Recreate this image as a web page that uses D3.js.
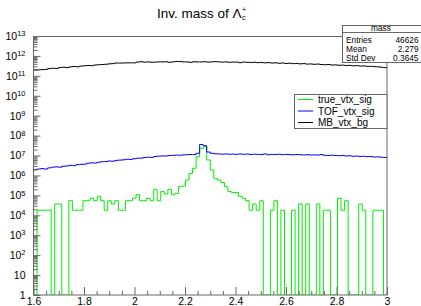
<!DOCTYPE html>
<html>
<head>
<meta charset="utf-8">
<script src="https://cdn.jsdelivr.net/npm/d3@7"></script>
<style>
  html, body { margin: 0; padding: 0; background: #fff; }
  svg { display: block; font-family: "Liberation Sans", Arial, Helvetica, sans-serif; }
</style>
</head>
<body>
<div id="chart"></div>
<script>
// binning of the three histograms
var xMin = 1.6, xMax = 3.0, nBins = 100;
var xMajorTicks = [1.6, 1.8, 2.0, 2.2, 2.4, 2.6, 2.8, 3.0];
var xTickLabels = ['1.6', '1.8', '2', '2.2', '2.4', '2.6', '2.8', '3'];
var yDecades = [0, 1, 2, 3, 4, 5, 6, 7, 8, 9, 10, 11, 12, 13];

var seriesNames = ['true_vtx_sig', 'TOF_vtx_sig', 'MB_vtx_bg'];
var statsTitle = 'mass';
var statsLabels = ['Entries', 'Mean', 'Std Dev'];
var statsValues = ['46626', '2.279', '0.3645'];

// bin contents
var trueVtxSig = [
  0, 1.8e4, 1.8e4, 1.8e4, 1.8e4, 0, 3.7e4, 3.7e4, 0, 0,
  5.4e4, 1.8e4, 1.8e4, 1.8e4, 5.4e4, 5.4e4, 7.2e4, 5.4e4, 9.0e4, 5.4e4,
  1.8e4, 5.4e4, 3.7e4, 5.4e4, 1.8e4, 1.8e4, 5.4e4, 5.4e4, 7.2e4, 1.08e5,
  5.4e4, 5.4e4, 7.2e4, 5.4e4, 2.0e5, 5.4e4, 1.55e5, 1.17e5, 2.0e5, 1.08e5,
  1.26e5, 2.75e5, 2.95e5, 5.9e5, 1.26e6, 2.3e6, 8.7e6, 2.3e7, 2.8e7, 6.0e6,
  1.86e6, 7.2e5, 5.9e5, 4.4e5, 2.75e5, 1.55e5, 1.38e5, 1.38e5, 9.0e4, 7.2e4,
  5.4e4, 1.8e4, 3.7e4, 1.8e4, 5.4e4, 0, 0, 1.8e4, 5.4e4, 0,
  1.8e4, 0, 0, 1.8e4, 0, 3.7e4, 0, 3.7e4, 0, 0,
  3.7e4, 0, 1.8e4, 1.8e4, 0, 0, 7.2e4, 1.8e4, 5.4e4, 0,
  0, 0, 3.7e4, 1.8e4, 0, 0, 1.8e4, 1.8e4, 1.8e4, 0
];
var tofVtxSig = [
  2.0e6, 2.1e6, 2.2e6, 2.1e6, 2.4e6, 2.6e6, 2.7e6, 2.6e6, 2.9e6, 3.0e6,
  3.2e6, 3.1e6, 3.5e6, 3.6e6, 3.7e6, 4.1e6, 4.3e6, 4.2e6, 4.6e6, 4.9e6,
  5.0e6, 5.3e6, 5.2e6, 5.7e6, 5.9e6, 6.1e6, 6.5e6, 6.4e6, 6.9e6, 7.3e6,
  7.4e6, 7.9e6, 8.3e6, 8.1e6, 8.9e6, 9.3e6, 9.6e6, 9.5e6, 1.0e7, 1.02e7,
  1.05e7, 1.04e7, 1.08e7, 1.1e7, 1.12e7, 1.12e7, 1.3e7, 3.6e7, 3.1e7, 1.5e7,
  1.3e7, 1.22e7, 1.2e7, 1.18e7, 1.2e7, 1.16e7, 1.18e7, 1.15e7, 1.2e7, 1.16e7,
  1.18e7, 1.13e7, 1.17e7, 1.15e7, 1.12e7, 1.2e7, 1.1e7, 1.14e7, 1.12e7, 1.16e7,
  1.1e7, 1.13e7, 1.12e7, 1.08e7, 1.12e7, 1.1e7, 1.07e7, 1.1e7, 1.06e7, 1.08e7,
  1.05e7, 1.12e7, 1.02e7, 1.0e7, 1.04e7, 1.01e7, 9.8e6, 1.0e7, 9.5e6, 9.7e6,
  9.2e6, 9.4e6, 9.0e6, 9.2e6, 8.8e6, 8.9e6, 8.4e6, 8.6e6, 8.2e6, 8.0e6
];
var mbVtxBg = [
  2.0e11, 2.0e11, 2.05e11, 2.1e11, 2.3e11, 2.4e11, 2.35e11, 2.6e11, 2.7e11, 2.6e11,
  2.8e11, 2.95e11, 2.85e11, 3.1e11, 3.2e11, 3.3e11, 3.25e11, 3.5e11, 3.6e11, 3.7e11,
  3.8e11, 4.0e11, 4.1e11, 4.4e11, 4.4e11, 4.4e11, 4.5e11, 4.5e11, 4.5e11, 4.9e11,
  5.1e11, 4.9e11, 5.0e11, 4.8e11, 4.9e11, 5.0e11, 5.0e11, 5.1e11, 4.8e11, 5.0e11,
  5.3e11, 5.2e11, 5.0e11, 5.0e11, 4.8e11, 5.1e11, 5.0e11, 5.0e11, 5.1e11, 4.9e11,
  5.0e11, 5.2e11, 5.0e11, 4.9e11, 5.0e11, 4.8e11, 4.9e11, 4.9e11, 4.6e11, 4.9e11,
  4.8e11, 4.7e11, 4.8e11, 4.6e11, 4.7e11, 4.5e11, 4.6e11, 4.4e11, 4.5e11, 4.3e11,
  4.4e11, 4.2e11, 4.3e11, 4.1e11, 4.2e11, 4.0e11, 4.1e11, 3.9e11, 3.95e11, 3.8e11,
  3.9e11, 3.7e11, 3.6e11, 3.7e11, 3.5e11, 3.55e11, 3.4e11, 3.45e11, 3.3e11, 3.35e11,
  3.2e11, 3.25e11, 3.1e11, 3.15e11, 3.0e11, 3.0e11, 2.9e11, 2.85e11, 2.7e11, 2.6e11
];

var W = 421, H = 306;
var frame = { left: 33.5, right: 387, top: 36, bottom: 295 };
var colors = ['#00ee00', '#0000ff', '#000000'];
var binW = (xMax - xMin) / nBins;

var svg = d3.select('#chart').append('svg')
  .attr('width', W)
  .attr('height', H);
svg.append('rect').attr('width', W).attr('height', H).attr('fill', '#fff');

var x = d3.scaleLinear().domain([xMin, xMax]).range([frame.left, frame.right]);
var y = d3.scaleLog().domain([1, 1e13]).range([frame.bottom, frame.top]);

svg.append('clipPath').attr('id', 'frameClip')
  .append('rect')
  .attr('x', frame.left).attr('y', frame.top)
  .attr('width', frame.right - frame.left)
  .attr('height', frame.bottom - frame.top);

// histogram outline, empty bins drop to the frame bottom like ROOT does on log axes
function stepPath(vals) {
  var d = '';
  vals.forEach(function (v, i) {
    var x0 = x(xMin + i * binW), x1 = x(xMin + (i + 1) * binW);
    var yy = v > 0 ? y(v) : frame.bottom;
    d += (i === 0 ? 'M' + x0 + ',' + yy : 'V' + yy) + 'H' + x1;
  });
  return d;
}

var plot = svg.append('g').attr('clip-path', 'url(#frameClip)');
[trueVtxSig, tofVtxSig, mbVtxBg].forEach(function (vals, i) {
  plot.append('path')
    .attr('d', stepPath(vals))
    .attr('fill', 'none')
    .attr('stroke', colors[i])
    .attr('stroke-width', 1);
});

// axes: ticks inside the frame
var xMinor = d3.range(0, 29).map(function (k) { return xMin + k * 0.05; })
  .filter(function (v) { return Math.abs(Math.round(v * 5) - v * 5) > 1e-6; });
var gxMinor = svg.append('g')
  .attr('transform', 'translate(0,' + frame.bottom + ')')
  .call(d3.axisBottom(x).tickValues(xMinor).tickSize(-4).tickFormat(''));
var gx = svg.append('g')
  .attr('transform', 'translate(0,' + frame.bottom + ')')
  .call(d3.axisBottom(x).tickValues(xMajorTicks).tickSize(-8).tickPadding(3)
    .tickFormat(function (d, i) { return xTickLabels[i]; }));

var yMajor = yDecades.map(function (e) { return Math.pow(10, e); });
var yMinor = [];
yDecades.slice(0, -1).forEach(function (e) {
  for (var m = 2; m <= 9; m++) yMinor.push(m * Math.pow(10, e));
});
var gyMinor = svg.append('g')
  .attr('transform', 'translate(' + frame.left + ',0)')
  .call(d3.axisLeft(y).tickValues(yMinor).tickSize(-4).tickFormat(''));
var gy = svg.append('g')
  .attr('transform', 'translate(' + frame.left + ',0)')
  .call(d3.axisLeft(y).tickValues(yMajor).tickSize(-7).tickPadding(8).tickFormat(''));

gy.selectAll('.tick text').each(function (d, i) {
  var t = d3.select(this);
  var e = yDecades[i];
  if (e === 0) t.text('1');
  else if (e === 1) t.text('10');
  else {
    t.append('tspan').text('10');
    t.append('tspan').attr('dy', '-0.5em').style('font-size', '7.5px').text(e);
  }
});

[gx, gxMinor, gy, gyMinor].forEach(function (g) {
  g.select('.domain').remove();
  g.selectAll('line').attr('stroke', '#666');
  g.selectAll('text').attr('fill', '#000')
    .style('font-family', '"Liberation Sans", Arial, sans-serif')
    .style('font-size', '10.5px');
});

svg.append('rect')
  .attr('x', frame.left).attr('y', frame.top + 0.5)
  .attr('width', frame.right - frame.left).attr('height', frame.bottom - frame.top - 0.5)
  .attr('fill', 'none').attr('stroke', '#666').attr('stroke-width', 1);

// title with Lambda_c^+ (sub and superscript stacked)
var title = svg.append('text')
  .attr('x', 157).attr('y', 17.5)
  .style('font-size', '13.5px');
var mainPart = title.append('tspan').text('Inv. mass of \u039B');
var tEnd = 157 + mainPart.node().getComputedTextLength() + 0.5;
title.append('tspan').attr('x', tEnd).attr('y', 19.5).style('font-size', '7px').text('c');
title.append('tspan').attr('x', tEnd).attr('y', 11.5).style('font-size', '7px').text('+');

// stats box
var stats = svg.append('g');
stats.append('rect')
  .attr('x', 342.5).attr('y', 25.5).attr('width', 80).attr('height', 37)
  .attr('fill', '#fff').attr('stroke', '#666');
stats.append('line')
  .attr('x1', 342.5).attr('x2', 421).attr('y1', 32.5).attr('y2', 32.5)
  .attr('stroke', '#666');
stats.append('text')
  .attr('x', 381).attr('y', 31).attr('text-anchor', 'middle')
  .style('font-size', '8.3px').text(statsTitle);
statsLabels.forEach(function (lab, i) {
  var by = 42.5 + i * 9;
  stats.append('text').attr('x', 346).attr('y', by)
    .style('font-size', '8.3px').text(lab);
  stats.append('text').attr('x', 418.5).attr('y', by).attr('text-anchor', 'end')
    .style('font-size', '8.3px').text(statsValues[i]);
});

// legend
var legend = svg.append('g');
legend.append('rect')
  .attr('x', 294.5).attr('y', 94.5).attr('width', 92.5).attr('height', 34)
  .attr('fill', '#fff').attr('stroke', '#666');
seriesNames.forEach(function (name, i) {
  var cy = 99.5 + i * 11.5;
  legend.append('line')
    .attr('x1', 298).attr('x2', 313).attr('y1', cy).attr('y2', cy)
    .attr('stroke', colors[i]).attr('stroke-width', 1);
  legend.append('text')
    .attr('x', 318).attr('y', cy + 3.6)
    .style('font-size', '10px').text(name);
});
</script>
</body>
</html>
